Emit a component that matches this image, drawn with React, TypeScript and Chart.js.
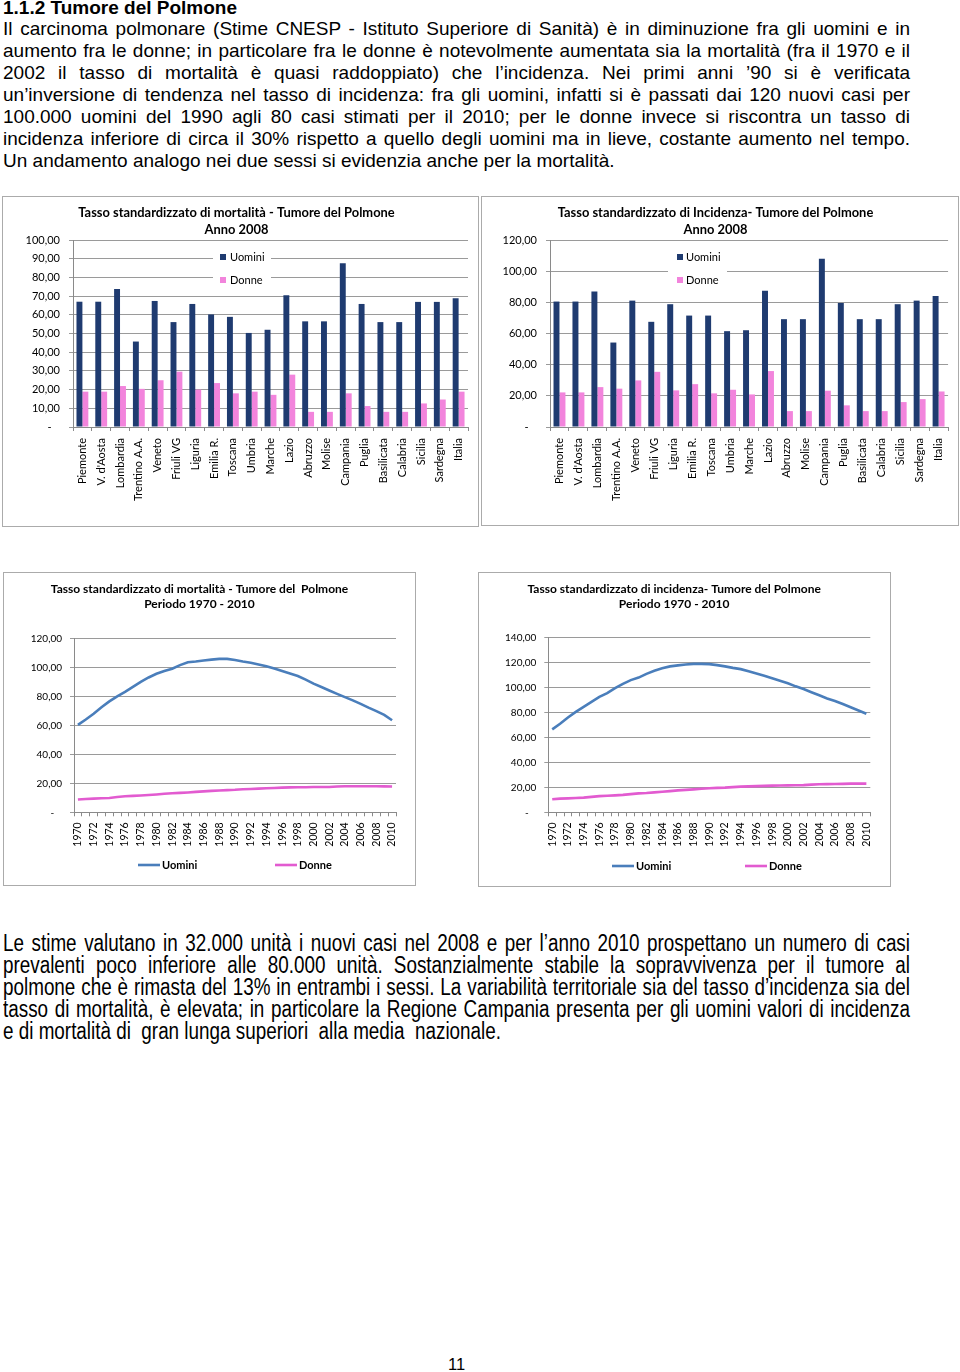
import React, { useEffect, useRef } from 'react';
import { Chart, registerables } from 'chart.js';

Chart.register(...registerables);

// ---------------- DATA ----------------
const regions = [
  'Piemonte', "V. d'Aosta", 'Lombardia', 'Trentino A.A.', 'Veneto', 'Friuli VG', 'Liguria',
  'Emilia R.', 'Toscana', 'Umbria', 'Marche', 'Lazio', 'Abruzzo', 'Molise', 'Campania',
  'Puglia', 'Basilicata', 'Calabria', 'Sicilia', 'Sardegna', 'Italia',
];

const mortalitaUomini2008 = [67.0, 67.0, 73.8, 45.7, 67.4, 56.1, 65.8, 60.2, 58.9, 50.3, 52.0, 70.4, 56.5, 56.5, 87.6, 65.8, 56.1, 56.1, 66.9, 66.9, 68.8];
const mortalitaDonne2008 = [18.9, 18.9, 21.9, 20.4, 25.0, 29.6, 20.0, 23.5, 18.0, 18.9, 17.2, 28.0, 8.1, 8.1, 18.0, 11.2, 8.1, 8.1, 12.6, 14.7, 18.9];

const incidenzaUomini2008 = [80.5, 80.5, 86.9, 54.2, 81.1, 67.5, 78.8, 71.5, 71.5, 61.5, 62.1, 87.5, 69.2, 69.2, 108.0, 79.6, 69.2, 69.2, 78.8, 81.1, 84.1];
const incidenzaDonne2008 = [22.2, 22.2, 25.6, 24.6, 29.9, 35.4, 23.5, 27.5, 21.6, 23.9, 20.9, 35.9, 10.2, 10.2, 23.3, 13.9, 10.2, 10.2, 16.0, 17.9, 22.8];

const years = [
  '1970', '1971', '1972', '1973', '1974', '1975', '1976', '1977', '1978', '1979',
  '1980', '1981', '1982', '1983', '1984', '1985', '1986', '1987', '1988', '1989',
  '1990', '1991', '1992', '1993', '1994', '1995', '1996', '1997', '1998', '1999',
  '2000', '2001', '2002', '2003', '2004', '2005', '2006', '2007', '2008', '2009', '2010',
];

const mortalitaUominiTrend = [
  60.3, 64.0, 68.0, 72.5, 76.5, 80.0, 83.0, 86.5, 90.0, 93.0,
  95.5, 97.5, 99.0, 101.5, 103.5, 104.0, 104.7, 105.3, 105.8, 105.8,
  105.0, 104.0, 103.2, 102.0, 100.8, 99.2, 97.5, 95.8, 94.0, 91.5,
  88.7, 86.4, 84.0, 81.7, 79.4, 77.2, 74.8, 72.2, 69.8, 67.2, 63.5,
];
const mortalitaDonneTrend = [
  8.8, 9.2, 9.4, 9.7, 9.9, 10.5, 11.1, 11.3, 11.6, 11.9,
  12.3, 12.8, 13.1, 13.4, 13.7, 14.1, 14.4, 14.8, 15.0, 15.3,
  15.5, 15.9, 16.1, 16.3, 16.6, 16.8, 17.0, 17.2, 17.3, 17.3,
  17.4, 17.4, 17.5, 17.8, 18.0, 18.0, 18.0, 18.0, 18.0, 17.9, 17.8,
];
const incidenzaUominiTrend = [
  66.5, 71.0, 76.0, 80.5, 84.5, 88.5, 92.5, 95.5, 99.5, 103.0,
  106.0, 108.0, 111.0, 113.5, 115.5, 117.0, 117.8, 118.5, 119.0, 119.0,
  118.8, 118.0, 117.0, 115.8, 114.8, 113.0, 111.3, 109.5, 107.5, 105.5,
  103.5, 101.0, 98.8, 96.3, 93.8, 91.3, 89.3, 86.8, 84.2, 81.6, 79.0,
];
const incidenzaDonneTrend = [
  10.5, 11.0, 11.2, 11.5, 11.8, 12.4, 13.0, 13.3, 13.6, 14.0,
  14.6, 15.2, 15.5, 16.0, 16.5, 17.0, 17.6, 18.0, 18.4, 18.9,
  19.3, 19.6, 19.8, 20.2, 20.6, 20.8, 21.0, 21.2, 21.4, 21.5,
  21.6, 21.7, 21.8, 22.2, 22.5, 22.6, 22.7, 22.8, 23.0, 23.0, 23.0,
];

const seriesNames = ['Uomini', 'Donne'];

// ---------------- STYLE ----------------
const CHART_FONT = 'Lato, "Open Sans", sans-serif';
const BAR_BLUE = '#1F3B70';
const BAR_PINK = '#F284DC';
const LINE_BLUE = '#4A7EBB';
const LINE_PINK = '#E25BD0';
const GRID = '#9a9a9a';
const AXIS = '#8a8a8a';

function fmt(v: number) {
  return v === 0 ? '-   ' : v.toFixed(2).replace('.', ',');
}

const insideLegend = {
  id: 'insideLegend',
  afterDraw(chart: any, _args: any, o: any) {
    if (!o || !o.items) return;
    const ctx = chart.ctx;
    ctx.save();
    if (o.bg) {
      ctx.fillStyle = '#ffffff';
      ctx.fillRect(o.bg[0], o.bg[1], o.bg[2], o.bg[3]);
    }
    ctx.font = o.font;
    ctx.textBaseline = 'middle';
    ctx.textAlign = 'left';
    chart.data.datasets.forEach((ds: any, i: number) => {
      const it = o.items[i];
      if (!it) return;
      if (o.marker === 'line') {
        ctx.strokeStyle = ds.borderColor;
        ctx.lineWidth = ds.borderWidth;
        ctx.beginPath();
        ctx.moveTo(it.x, it.y);
        ctx.lineTo(it.x + o.markerLen, it.y);
        ctx.stroke();
      } else {
        ctx.fillStyle = ds.backgroundColor;
        ctx.fillRect(it.x, it.y - o.box / 2, o.box, o.box);
      }
      ctx.fillStyle = '#000';
      ctx.fillText(ds.label, it.x + o.textGap, it.y);
    });
    ctx.restore();
  },
};

function barConfig(p: any): any {
  return {
    type: 'bar',
    data: {
      labels: regions,
      datasets: [
        { label: seriesNames[0], data: p.uomini, backgroundColor: BAR_BLUE, borderWidth: 0, categoryPercentage: 0.63, barPercentage: 1.0 },
        { label: seriesNames[1], data: p.donne, backgroundColor: BAR_PINK, borderWidth: 0, categoryPercentage: 0.63, barPercentage: 1.0 },
      ],
    },
    plugins: [insideLegend],
    options: {
      responsive: false,
      animation: false,
      layout: { padding: { left: 0, right: p.padRight, top: 0, bottom: 0 } },
      plugins: {
        legend: { display: false },
        tooltip: { enabled: false },
        title: {
          display: true,
          text: p.title,
          color: '#000',
          font: { family: CHART_FONT, size: 12.9, weight: 'bold', lineHeight: 17 / 12.9 },
          padding: { top: 8.5, bottom: 1.5 },
        },
        insideLegend: {
          bg: p.legendBg,
          items: p.legendItems,
          font: `11px ${CHART_FONT}`,
          box: 6,
          textGap: p.textGap,
          marker: 'box',
        },
      },
      scales: {
        x: {
          grid: { display: true, drawOnChartArea: false, drawTicks: true, tickLength: 4, color: AXIS, offset: true },
          border: { display: true, color: AXIS },
          ticks: { autoSkip: false, minRotation: 90, maxRotation: 90, padding: 7, color: '#000', font: { family: CHART_FONT, size: 11 } },
          afterFit: (s: any) => { s.height = p.xHeight; },
        },
        y: {
          min: 0,
          max: p.max,
          ticks: { stepSize: p.step, padding: 9, color: '#000', font: { family: CHART_FONT, size: 11 }, callback: (v: any) => fmt(Number(v)) },
          grid: { color: GRID, drawTicks: true, tickLength: 4 },
          border: { display: true, color: AXIS },
          afterFit: (s: any) => { s.width = p.yWidth; },
        },
      },
    },
  };
}

function lineConfig(p: any): any {
  return {
    type: 'line',
    data: {
      labels: years,
      datasets: [
        { label: seriesNames[0], data: p.uomini, borderColor: LINE_BLUE, backgroundColor: LINE_BLUE, borderWidth: 2.6, pointRadius: 0, tension: 0, fill: false },
        { label: seriesNames[1], data: p.donne, borderColor: LINE_PINK, backgroundColor: LINE_PINK, borderWidth: 2.6, pointRadius: 0, tension: 0, fill: false },
      ],
    },
    plugins: [insideLegend],
    options: {
      responsive: false,
      animation: false,
      layout: { padding: { left: 0, right: p.padRight, top: 0, bottom: 0 } },
      plugins: {
        legend: { display: false },
        tooltip: { enabled: false },
        title: {
          display: true,
          text: p.title,
          color: '#000',
          font: { family: CHART_FONT, size: 12, weight: 'bold', lineHeight: 15.3 / 12 },
          padding: { top: 9.35, bottom: p.titleBottom },
        },
        insideLegend: {
          items: p.legendItems,
          font: `bold 11px ${CHART_FONT}`,
          markerLen: 22,
          textGap: 24,
          marker: 'line',
        },
      },
      scales: {
        x: {
          offset: true,
          grid: { display: true, drawOnChartArea: false, drawTicks: true, tickLength: 4, color: AXIS, offset: true },
          border: { display: true, color: AXIS },
          ticks: {
            autoSkip: false, minRotation: 90, maxRotation: 90, padding: 6, color: '#000',
            font: { family: CHART_FONT, size: 10.5 },
            callback: (_v: any, i: number) => (i % 2 === 0 ? years[i] : ''),
          },
          afterFit: (s: any) => { s.height = p.xHeight; },
        },
        y: {
          min: 0,
          max: p.max,
          ticks: { stepSize: 20, padding: 8, color: '#000', font: { family: CHART_FONT, size: 10 }, callback: (v: any) => fmt(Number(v)) },
          grid: { color: GRID, drawTicks: true, tickLength: 4 },
          border: { display: true, color: AXIS },
          afterFit: (s: any) => { s.width = p.yWidth; },
        },
      },
    },
  };
}

function ChartBox(props: { left: number; top: number; width: number; height: number; config: () => any }) {
  const ref = useRef<HTMLCanvasElement>(null);
  useEffect(() => {
    const chart = new Chart(ref.current as HTMLCanvasElement, props.config());
    return () => chart.destroy();
  }, []);
  const { left, top, width, height } = props;
  return (
    <div style={{ position: 'absolute', left, top, width, height }}>
      <canvas ref={ref} width={width} height={height} style={{ position: 'absolute', left: 0, top: 0, width, height }} />
      <div style={{ position: 'absolute', left: 0, top: 0, width, height, boxSizing: 'border-box', border: '1px solid #ababab', pointerEvents: 'none' }} />
    </div>
  );
}

const topLines = [
  'Il carcinoma polmonare (Stime CNESP - Istituto Superiore di Sanità) è in diminuzione fra gli uomini e in',
  'aumento fra le donne; in particolare fra le donne è notevolmente aumentata sia la mortalità (fra il 1970 e il',
  '2002 il tasso di mortalità è quasi raddoppiato) che l’incidenza. Nei primi anni ’90 si è verificata',
  'un’inversione di tendenza nel tasso di incidenza: fra gli uomini, infatti si è passati dai 120 nuovi casi per',
  '100.000 uomini del 1990 agli 80 casi stimati per il 2010; per le donne invece si riscontra un tasso di',
  'incidenza inferiore di circa il 30% rispetto a quello degli uomini ma in lieve, costante aumento nel tempo.',
  'Un andamento analogo nei due sessi si evidenzia anche per la mortalità.',
];

const bottomLines = [
  'Le stime valutano in 32.000 unità i nuovi casi nel 2008 e per l’anno 2010 prospettano un numero di casi',
  'prevalenti poco inferiore alle 80.000 unità. Sostanzialmente stabile la sopravvivenza per il tumore al',
  'polmone che è rimasta del 13% in entrambi i sessi. La variabilità territoriale sia del tasso d’incidenza sia del',
  'tasso di mortalità, è elevata; in particolare la Regione Campania presenta per gli uomini valori di incidenza',
  'e di mortalità di  gran lunga superiori  alla media  nazionale.',
];

function Para(props: { lines: string[]; top: number; lineHeight: number; size: number; scaleX: number }) {
  const { lines, top, lineHeight, size, scaleX } = props;
  return (
    <div
      style={{
        position: 'absolute', left: 3, top, width: 907 / scaleX,
        fontFamily: '"Liberation Sans", Arial, sans-serif', fontSize: size, lineHeight: `${lineHeight}px`,
        transform: scaleX === 1 ? undefined : `scaleX(${scaleX})`, transformOrigin: 'left top',
      }}
    >
      {lines.map((l, i) => {
        const last = i === lines.length - 1;
        return (
          <div
            key={i}
            style={{
              whiteSpace: last ? 'pre' : 'normal',
              textAlign: last ? 'left' : 'justify',
              textAlignLast: last ? 'left' : 'justify',
              height: lineHeight,
              overflow: 'visible',
            } as any}
          >
            {l}
          </div>
        );
      })}
    </div>
  );
}

export default function App() {
  return (
    <div style={{ position: 'absolute', left: 0, top: 0, width: 960, height: 1372, background: '#fff', color: '#000', overflow: 'hidden' }}>
      <div style={{ position: 'absolute', left: 3, top: -2.85, fontFamily: '"Liberation Sans", Arial, sans-serif', fontWeight: 'bold', fontSize: 19, lineHeight: '22.5px', whiteSpace: 'nowrap' }}>
        1.1.2 Tumore del Polmone
      </div>
      <Para lines={topLines} top={18.4} lineHeight={22} size={19} scaleX={1} />

      <ChartBox
        left={2} top={196} width={477} height={331}
        config={() => barConfig({
          title: ['Tasso standardizzato di mortalità - Tumore del Polmone', 'Anno 2008'],
          uomini: mortalitaUomini2008, donne: mortalitaDonne2008, max: 100, step: 10,
          yWidth: 71, padRight: 8, xHeight: 100,
          legendBg: [211, 49, 58, 44], legendItems: [{ x: 218, y: 61 }, { x: 218, y: 84 }], textGap: 10,
        })}
      />
      <ChartBox
        left={481} top={196} width={478} height={330}
        config={() => barConfig({
          title: ['Tasso standardizzato di Incidenza- Tumore del Polmone', 'Anno 2008'],
          uomini: incidenzaUomini2008, donne: incidenzaDonne2008, max: 120, step: 20,
          yWidth: 69, padRight: 9, xHeight: 99,
          legendBg: [187, 49, 59, 44], legendItems: [{ x: 196, y: 61 }, { x: 196, y: 84 }], textGap: 9,
        })}
      />
      <ChartBox
        left={3} top={572} width={413} height={314}
        config={() => lineConfig({
          title: ['Tasso standardizzato di mortalità - Tumore del  Polmone', 'Periodo 1970 - 2010'],
          uomini: mortalitaUominiTrend, donne: mortalitaDonneTrend, max: 120,
          yWidth: 71, padRight: 20, xHeight: 73.7, titleBottom: 26.35,
          legendItems: [{ x: 135, y: 293 }, { x: 272, y: 293 }],
        })}
      />
      <ChartBox
        left={478} top={572} width={413} height={315}
        config={() => lineConfig({
          title: ['Tasso standardizzato di incidenza- Tumore del Polmone', 'Periodo 1970 - 2010'],
          uomini: incidenzaUominiTrend, donne: incidenzaDonneTrend, max: 140,
          yWidth: 70.3, padRight: 20.7, xHeight: 74.7, titleBottom: 25.75,
          legendItems: [{ x: 134, y: 294 }, { x: 267, y: 294 }],
        })}
      />

      <Para lines={bottomLines} top={931.6} lineHeight={22} size={23} scaleX={0.82} />

      <div style={{ position: 'absolute', left: 448, top: 1354.3, fontFamily: '"Liberation Sans", Arial, sans-serif', fontSize: 16.5, lineHeight: '20px' }}>11</div>
    </div>
  );
}
